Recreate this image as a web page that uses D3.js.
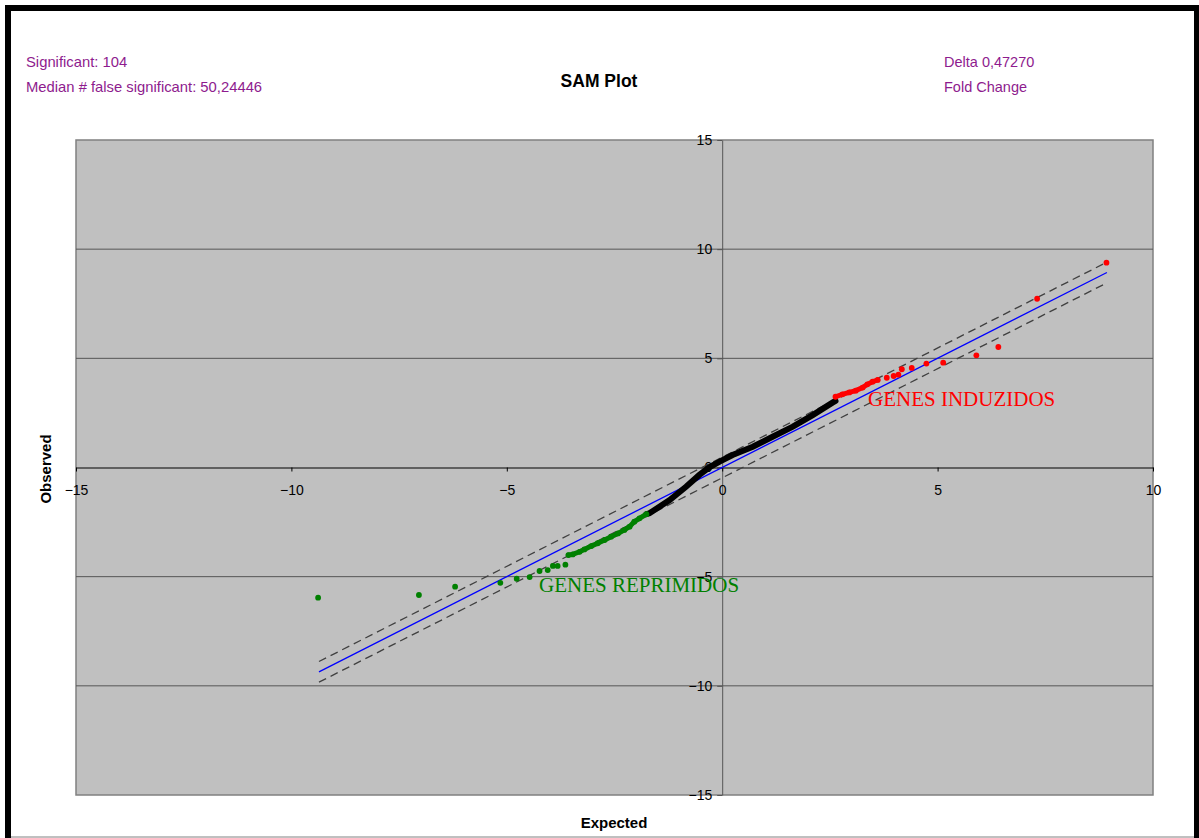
<!DOCTYPE html>
<html>
<head>
<meta charset="utf-8">
<script src="https://cdn.jsdelivr.net/npm/d3@7"></script>
<style>
  body { margin: 0; background: #fff; }
  text { font-family: "Liberation Sans", Arial, sans-serif; }
</style>
</head>
<body>
<script>
// === data
var xTicks = [-15, -10, -5, 0, 5, 10];
var yTicks = [-15, -10, -5, 0, 5, 10, 15];
var gridValues = [-10, -5, 5, 10];
var delta = 0.4727;
var diagX = [-9.36, 8.93];

// repressed genes (green)
var greenExpected = [-9.38, -7.04, -6.20, -5.15, -4.77, -4.47, -4.24, -4.05, -3.93, -3.82, -3.64,
  -3.57, -3.47, -3.31, -3.20, -3.04, -2.89, -2.73, -2.58, -2.42, -2.27, -2.15, -2.04, -1.92, -1.76];
var greenObserved = [-5.96, -5.84, -5.46, -5.28, -5.09, -5.02, -4.74, -4.70, -4.51, -4.51, -4.45,
  -4.01, -3.98, -3.86, -3.75, -3.60, -3.47, -3.32, -3.17, -3.02, -2.86, -2.71, -2.48, -2.33, -2.14];
var greenDenseFrom = 11;

// not significant (black band)
var blackExpected = [-1.76, -1.69, -1.22, -0.84, -0.53, -0.30, -0.06, 0.24, 0.71, 1.17, 1.64, 2.10, 2.56, 2.63];
var blackObserved = [-2.14, -2.10, -1.49, -0.88, -0.34, 0.01, 0.27, 0.57, 0.95, 1.41, 1.87, 2.40, 2.97, 3.05];

// induced genes (red)
var redExpected = [2.63, 2.79, 2.95, 3.10, 3.26, 3.37, 3.49, 3.61, 3.82, 3.98, 4.09, 4.17, 4.40, 4.74, 5.13, 5.90, 6.41, 7.31, 8.92];
var redObserved = [3.24, 3.35, 3.44, 3.52, 3.66, 3.81, 3.93, 4.01, 4.11, 4.19, 4.25, 4.50, 4.56, 4.76, 4.80, 5.14, 5.52, 7.73, 9.38];
var redDenseTo = 8;

var W = 1199, H = 838;
var purple = '#8e1b8e';

var svg = d3.select('body').append('svg')
  .attr('width', W)
  .attr('height', H);

// frame
svg.append('rect').attr('x', 5).attr('y', 5).attr('width', 6).attr('height', H - 5).attr('fill', '#000');
svg.append('rect').attr('x', 5).attr('y', 5).attr('width', W - 5).attr('height', 6).attr('fill', '#000');
svg.append('rect').attr('x', 1194).attr('y', 5).attr('width', 5).attr('height', H - 5).attr('fill', '#000');
svg.append('line').attr('x1', 11).attr('x2', 1194).attr('y1', 837).attr('y2', 837)
  .style('stroke', '#808080').style('stroke-width', 1);

// scales
var xScale = d3.scaleLinear().domain([-15, 10]).range([76, 1153]);
var yScale = d3.scaleLinear().domain([-15, 15]).range([795, 140]);

// plot area
svg.append('rect')
  .attr('x', xScale(-15)).attr('y', yScale(15))
  .attr('width', xScale(10) - xScale(-15))
  .attr('height', yScale(-15) - yScale(15))
  .attr('fill', '#c0c0c0')
  .style('stroke', '#808080').style('stroke-width', 1.5);

// gridlines
svg.selectAll('.grid')
  .data(gridValues)
  .enter().append('line')
  .attr('class', 'grid')
  .attr('x1', xScale(-15)).attr('x2', xScale(10))
  .attr('y1', d => yScale(d)).attr('y2', d => yScale(d))
  .style('stroke', '#555').style('stroke-width', 1);

// axes through the origin
var yAxis = svg.append('g')
  .attr('transform', `translate(${xScale(0)},0)`)
  .call(d3.axisLeft(yScale).tickValues(yTicks).tickSize(5).tickPadding(5).tickSizeOuter(0));
yAxis.select('.domain').style('stroke', '#555');
yAxis.selectAll('.tick line').style('stroke', '#555');
yAxis.selectAll('text').style('font-size', '14px').attr('fill', '#000');

var xAxis = svg.append('g')
  .attr('transform', `translate(0,${yScale(0)})`)
  .call(d3.axisBottom(xScale).tickValues(xTicks).tickSize(4).tickPadding(14).tickSizeOuter(0));
xAxis.select('.domain').style('stroke', '#000');
xAxis.selectAll('text').style('font-size', '14px').attr('fill', '#000');

// delta lines and 45 degree line
var diag = d3.line().x(d => xScale(d[0])).y(d => yScale(d[1]));
[delta, -delta].forEach(function(off) {
  svg.append('path')
    .attr('d', diag(diagX.map(x => [x, x + off])))
    .style('fill', 'none').style('stroke', '#404040')
    .style('stroke-width', 1.3).style('stroke-dasharray', '8,5');
});
svg.append('path')
  .attr('d', diag(diagX.map(x => [x, x])))
  .style('fill', 'none').style('stroke', '#0000ff').style('stroke-width', 1.3);

// points
var band = d3.line().x(d => xScale(d[0])).y(d => yScale(d[1]));
var greenPts = greenExpected.map((x, i) => [x, greenObserved[i]]);
var blackPts = blackExpected.map((x, i) => [x, blackObserved[i]]);
var redPts = redExpected.map((x, i) => [x, redObserved[i]]);

svg.append('path').attr('d', band(blackPts))
  .style('fill', 'none').style('stroke', '#000').style('stroke-width', 6).style('stroke-linecap', 'round');
svg.append('path').attr('d', band(greenPts.slice(greenDenseFrom)))
  .style('fill', 'none').style('stroke', '#008000').style('stroke-width', 5).style('stroke-linecap', 'round');
svg.append('path').attr('d', band(redPts.slice(0, redDenseTo)))
  .style('fill', 'none').style('stroke', '#ff0000').style('stroke-width', 5).style('stroke-linecap', 'round');

svg.selectAll('.green').data(greenPts).enter().append('circle')
  .attr('cx', d => xScale(d[0])).attr('cy', d => yScale(d[1])).attr('r', 2.9).attr('fill', '#008000');
svg.selectAll('.red').data(redPts).enter().append('circle')
  .attr('cx', d => xScale(d[0])).attr('cy', d => yScale(d[1])).attr('r', 2.9).attr('fill', '#ff0000');

// annotations
svg.append('text').text('GENES INDUZIDOS')
  .attr('x', 868).attr('y', 406)
  .style('font-family', '"Liberation Serif", "Times New Roman", serif')
  .style('font-size', '21px').attr('fill', '#ff0000');
svg.append('text').text('GENES REPRIMIDOS')
  .attr('x', 539).attr('y', 592)
  .style('font-family', '"Liberation Serif", "Times New Roman", serif')
  .style('font-size', '21px').attr('fill', '#008000');

// header texts
svg.append('text').text('SAM Plot')
  .attr('x', 599).attr('y', 87).attr('text-anchor', 'middle')
  .style('font-size', '17.5px').style('font-weight', 'bold');
svg.append('text').text('Significant: 104')
  .attr('x', 26).attr('y', 67).style('font-size', '14.8px').attr('fill', purple);
svg.append('text').text('Median # false significant: 50,24446')
  .attr('x', 26).attr('y', 92).style('font-size', '14.8px').attr('fill', purple);
svg.append('text').text('Delta 0,47270')
  .attr('x', 944).attr('y', 67).style('font-size', '14.5px').attr('fill', purple);
svg.append('text').text('Fold Change')
  .attr('x', 944).attr('y', 92).style('font-size', '14.5px').attr('fill', purple);

// axis titles
svg.append('text').text('Expected')
  .attr('x', 614).attr('y', 828).attr('text-anchor', 'middle')
  .style('font-size', '15px').style('font-weight', 'bold');
svg.append('text').text('Observed')
  .attr('text-anchor', 'middle')
  .attr('transform', 'translate(51,469) rotate(-90)')
  .style('font-size', '15px').style('font-weight', 'bold');
</script>
</body>
</html>
